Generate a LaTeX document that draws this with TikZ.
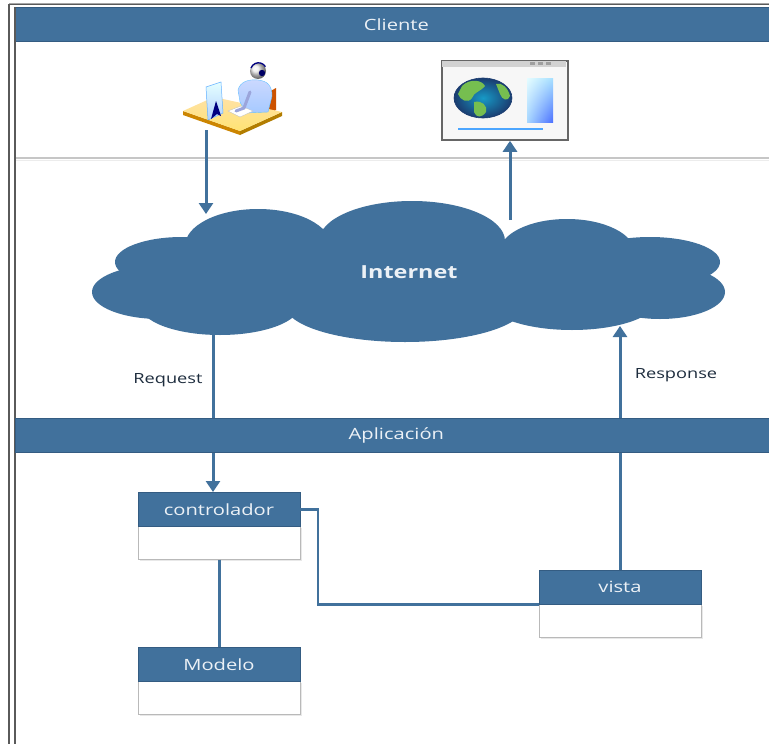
\documentclass[tikz,border=0pt]{standalone}
\usepackage{fontspec}
\usepackage{graphicx}
\setmainfont{Open Sans}
\usetikzlibrary{arrows.meta,shadows,shadings}
\definecolor{mvcblue}{RGB}{65,113,156}
\definecolor{mvcedge}{RGB}{52,92,130}
\definecolor{headtext}{RGB}{236,241,246}
\definecolor{labeltext}{RGB}{30,45,62}
\definecolor{framegray}{RGB}{90,90,90}
\definecolor{ocean}{RGB}{38,86,160}
\definecolor{land}{RGB}{118,190,80}
\newcommand\wt[1]{\scalebox{1.3}[1.0]{#1}}
\newcommand\hdrsize{\fontsize{15.5}{18}\selectfont}
\newcommand\lblsize{\fontsize{14}{16}\selectfont}
\begin{document}
\begin{tikzpicture}[x=1pt,y=-1pt,
  panelhdr/.style={fill=mvcblue, draw=mvcedge, line width=0.8pt, text=headtext,
    minimum height=34pt, inner sep=0pt, anchor=north west, font=\hdrsize},
  boxhdr/.style={fill=mvcblue, draw=mvcedge, line width=0.6pt, text=headtext,
    minimum width=162pt, minimum height=34pt, inner sep=0pt, font=\hdrsize},
  boxbody/.style={fill=white, draw=gray!55, line width=0.6pt,
    minimum width=162pt, minimum height=33pt, inner sep=0pt,
    drop shadow={shadow xshift=1.5pt, shadow yshift=-1.5pt, opacity=0.18}},
  link/.style={draw=mvcblue, line width=3pt},
  arr/.style={link, -{Triangle[width=14pt,length=11pt]}},
  lbl/.style={text=labeltext, font=\lblsize, inner sep=0pt}]
\useasboundingbox (0,0) rectangle (769,744);
\clip (0,0) rectangle (769,744);
\fill[white] (0,0) rectangle (769,744);

% outer frame
\draw[framegray, line width=1.4pt] (9,760) -- (9,4.5) -- (900,4.5);
\draw[gray!70, line width=1pt] (9,3) -- (900,3);

% client panel
\fill[white] (15,41) rectangle (900,158);
\draw[gray!45, line width=1.2pt] (15,158) -- (900,158);
\draw[gray!15, line width=1.5pt] (15,160.5) -- (900,160.5);
\node[panelhdr, minimum width=762pt] (cliente) at (15,7) {\wt{Cliente}};
\draw[framegray, line width=1.2pt] (15,7) -- (15,760);

% anchor points on the cloud outline
\coordinate (cloudreq) at (213,333);
\coordinate (cloudresp) at (620,326);
\coordinate (cloudin) at (206,214);
\coordinate (cloudout) at (510,220);
\coordinate (bend) at (318,0);

% internet cloud
\begin{scope}[fill=mvcblue]
  \fill (258,246) ellipse [x radius=73, y radius=37];
  \fill (412,241) ellipse [x radius=93, y radius=40];
  \fill (567,253) ellipse [x radius=68, y radius=34];
  \fill (182,262) ellipse [x radius=67, y radius=25];
  \fill (160,292) ellipse [x radius=68, y radius=27];
  \fill (650,262) ellipse [x radius=70, y radius=25];
  \fill (660,292) ellipse [x radius=65, y radius=27];
  \fill (220,305) ellipse [x radius=80, y radius=30];
  \fill (405,305) ellipse [x radius=120, y radius=37];
  \fill (572,300) ellipse [x radius=85, y radius=30];
  \fill (410,280) ellipse [x radius=235, y radius=42];
\end{scope}
\node[text=headtext, font=\fontsize{18}{20}\selectfont\bfseries] (internet) at (409,272) {\wt{Internet}};

% application panel header
\node[panelhdr, minimum width=762pt] (aplicacion) at (15,418) {\wt{Aplicación}};

% component boxes
\node[boxbody, anchor=north] (ctrlbody) at (219,526) {};
\node[boxhdr, anchor=north] (ctrl) at (219,492) {\wt{controlador}};
\node[boxbody, anchor=north] (modbody) at (219,681) {};
\node[boxhdr, anchor=north] (modelo) at (219,647) {\wt{Modelo}};
\node[boxbody, anchor=north] (vistabody) at (620,604) {};
\node[boxhdr, anchor=north] (vista) at (620,570) {\wt{vista}};

% user at desk
\begin{scope}
  \fill[orange!80!red!80!black] (267,93) -- (276,88) -- (276,110) -- (267,114) -- cycle;
  \fill[orange!70!yellow!80!black] (183,111) -- (240,131) -- (240,135) -- (183,115) -- cycle;
  \fill[orange!60!yellow!70!black] (240,131) -- (282,112) -- (282,116) -- (240,135) -- cycle;
  \shade[top color=yellow!35!orange!35, bottom color=yellow!60!orange!55]
    (183,111) -- (214,97) -- (282,112) -- (240,131) -- cycle;
  \shade[top color=cyan!25!blue!20, bottom color=cyan!40!blue!35, draw=blue!40!cyan!60, line width=0.4pt]
    (238,90) .. controls (240,82) and (248,79) .. (258,80)
    .. controls (268,81) and (272,86) .. (272,96)
    -- (268,112) -- (246,113) -- (240,102) -- cycle;
  \fill[white, draw=gray!50, line width=0.3pt] (228,111) -- (241,106) -- (253,111) -- (240,117) -- cycle;
  \draw[cyan!30!blue!40, line width=3pt, line cap=round] (250,92) -- (244,108) -- (236,111);
  \shade[ball color=gray!15] (258,71) circle [radius=8];
  \draw[blue!50!black, line width=1.3pt] (251,68) arc[start angle=200, end angle=330, radius=8];
  \fill[blue!40!black] (262,73) circle [radius=3.2];
  \shade[top color=cyan!10, bottom color=cyan!40!blue!30, draw=blue!50!cyan!60, line width=0.5pt]
    (206,87) -- (221,82) -- (223,113) -- (208,120) -- cycle;
  \fill[blue!50!black] (211,119) -- (216,101) -- (221,116) -- (217,114) -- cycle;
  \coordinate (user) at (206,130);
\end{scope}

% browser window
\node[draw=gray!80!black, line width=1.8pt, fill=gray!6, minimum width=126pt,
      minimum height=79pt, inner sep=0pt, anchor=north west] (browser) at (441,60) {};
\fill[gray!35] (442,61) rectangle (566,66.5);
\foreach \bx in {530,538,546} \fill[gray!75] (\bx,62) rectangle ++(5,3);
\begin{scope}
  \clip (483,98) ellipse [x radius=29, y radius=20];
  \shade[inner color=ocean!60!cyan, outer color=ocean!70!black] (483,98) ellipse [x radius=29, y radius=20];
  \fill[land] (462,86) .. controls (470,78) and (482,80) .. (485,86)
    .. controls (480,92) and (474,92) .. (472,98) .. controls (468,104) and (460,100) .. (458,94) -- cycle;
  \fill[land] (474,102) .. controls (482,100) and (488,106) .. (486,112)
    .. controls (482,118) and (476,118) .. (474,112) -- cycle;
  \fill[land] (496,84) .. controls (502,82) and (508,88) .. (510,96)
    .. controls (508,102) and (502,100) .. (500,94) -- cycle;
\end{scope}
\draw[ocean!70!black, line width=0.6pt] (483,98) ellipse [x radius=29, y radius=20];
\shade[upper left=blue!10!cyan!10, lower right=blue!80!cyan!70, upper right=blue!35!cyan!35, lower left=blue!45!cyan!35]
  (527,78) rectangle (553,122);
\draw[blue!50!cyan!70, line width=1.5pt] (458,129) -- (543,129);

% connectors
\draw[arr] (user) -- (cloudin);
\draw[arr] (cloudout) -- (cloudout |- browser.south);
\draw[link] (cloudreq) -- (cloudreq |- aplicacion.north);
\draw[arr] (cloudreq |- aplicacion.south) -- (cloudreq |- ctrl.north);
\draw[link] (vista.north) -- (vista.north |- aplicacion.south);
\draw[arr] (vista.north |- aplicacion.north) -- (cloudresp);
\draw[link] (ctrlbody.south) -- (modelo.north);
\draw[link, line width=2.4pt] (ctrl.east) -- (ctrl.east -| bend) |- (vista.south west);

% labels
\node[lbl] (request) at (168,380) {\wt{Request}};
\node[lbl] (response) at (676,375) {\wt{Response}};
\end{tikzpicture}
\end{document}
